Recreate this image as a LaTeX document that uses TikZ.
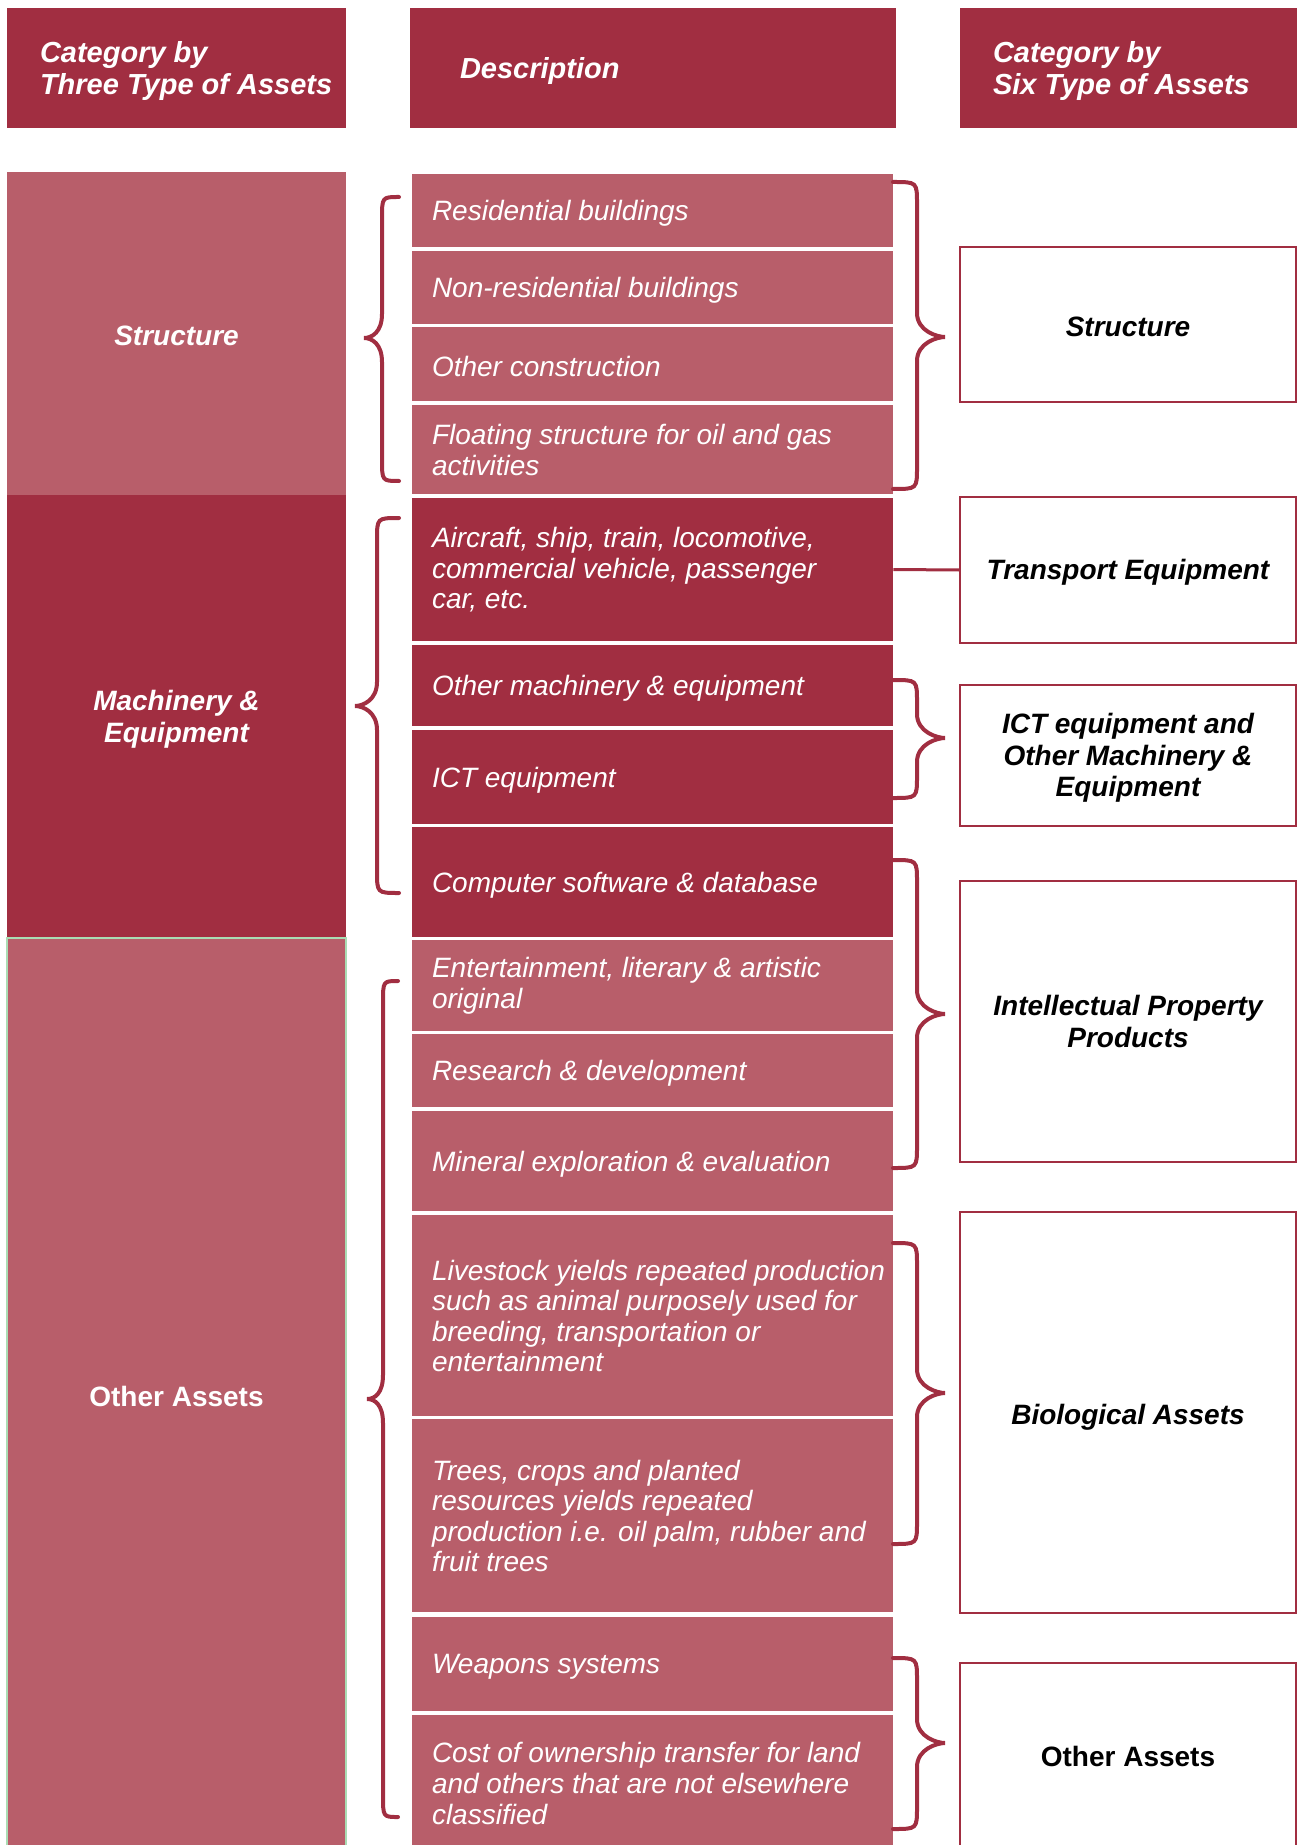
\documentclass[tikz,border=0pt]{standalone}
\usepackage{fontspec}
\setmainfont{Liberation Sans}
\definecolor{dk}{RGB}{161,46,65}
\definecolor{lt}{RGB}{184,94,106}
\definecolor{gr}{RGB}{170,220,180}
\newcommand\mybox[7]{%
 \pgfmathsetmacro\bxcx{(#2+#4)/2}\pgfmathsetmacro\bxcy{(#3+#5)/2}%
 \pgfmathsetmacro\bxw{(#4-#2)/2}\pgfmathsetmacro\bxh{(#5-#3)/2}%
 \node[#6, minimum width=\bxw pt, minimum height=\bxh pt, inner sep=0pt] (#1) at (\bxcx,\bxcy) {#7};}
\newcommand\LBr[6]{% xe xv xt yt ym yb
 \draw[brc] (#1,#4) .. controls (#2,#4) .. (#2,#4+22) -- (#2,#5-24) .. controls (#2,#5-6) and (#3+8,#5) .. (#3,#5) .. controls (#3+8,#5) and (#2,#5+6) .. (#2,#5+24) -- (#2,#6-22) .. controls (#2,#6) .. (#1,#6);}
\newcommand\RBr[6]{% xs xv xt yt ym yb
 \draw[brc] (#1,#4) .. controls (#2,#4) .. (#2,#4+22) -- (#2,#5-24) .. controls (#2,#5-6) and (#3-8,#5) .. (#3,#5) .. controls (#3-8,#5) and (#2,#5+6) .. (#2,#5+24) -- (#2,#6-22) .. controls (#2,#6) .. (#1,#6);}
\tikzset{
 hdr/.style={fill=dk, draw=none},
 ltbox/.style={fill=lt, draw=none},
 dkbox/.style={fill=dk, draw=none},
 colR/.style={fill=white, draw=dk, line width=1pt},
 htxt/.style={text=white, font=\fontsize{14.5}{15.9}\selectfont\bfseries\itshape, align=left, inner sep=0pt, anchor=west, yshift=-1.6pt},
 dtxt/.style={text=white, font=\fontsize{14}{15.3}\selectfont\itshape, align=left, inner sep=0pt, anchor=west, yshift=-1.4pt},
 ml/.style={yshift=1.2pt},
 rtxt/.style={text=black, font=\fontsize{14}{15.9}\selectfont\bfseries, align=center, inner sep=0pt, yshift=-1.2pt},
 ltxt/.style={text=white, font=\fontsize{14}{15.9}\selectfont\bfseries, align=center, inner sep=0pt, yshift=-1.2pt},
 brc/.style={draw=dk, line width=2pt, line cap=round},
 link/.style={draw=dk, line width=1.5pt}
}
\begin{document}
\begin{tikzpicture}[x=0.5pt,y=-0.5pt]
\useasboundingbox (0,0) rectangle (1298,1845);
\clip (0,0) rectangle (1298,1845);
% headers
\mybox{h1}{7}{8}{346}{128}{hdr}{}
\mybox{h2}{410}{8}{896}{128}{hdr}{}
\mybox{h3}{960}{8}{1297}{128}{hdr}{}
\node[htxt] (h1t) at ([xshift=16.5pt]h1.west) {Category by\\Three Type of Assets};
\node[htxt] (h2t) at ([xshift=25pt]h2.west) {Description};
\node[htxt] (h3t) at ([xshift=16.5pt]h3.west) {Category by\\Six Type of Assets};
% left column
\mybox{l1}{7}{172}{346}{495}{ltbox}{}
\mybox{l2}{7}{495}{346}{938}{dkbox}{}
\mybox{l3}{7}{938}{346}{1848}{ltbox,draw=gr,line width=0.6pt}{}
\node[ltxt] (l1t) at (l1.center) {\itshape Structure};
\node[ltxt] (l2t) at (l2.center) {\itshape Machinery \&\\\itshape Equipment};
\node[ltxt] (l3t) at ([yshift=-0.35pt]l3.center) {Other Assets};
% description column
\mybox{d1}{412}{174}{893}{247}{ltbox}{}
\mybox{d2}{412}{251}{893}{324}{ltbox}{}
\mybox{d3}{412}{327}{893}{401}{ltbox}{}
\mybox{d4}{412}{405}{893}{494}{ltbox}{}
\mybox{d5}{412}{498}{893}{641}{dkbox}{}
\mybox{d6}{412}{645}{893}{726}{dkbox}{}
\mybox{d7}{412}{730}{893}{824}{dkbox}{}
\mybox{d8}{412}{827}{893}{937}{dkbox}{}
\mybox{d9}{412}{940}{893}{1031}{ltbox}{}
\mybox{d10}{412}{1034}{893}{1107}{ltbox}{}
\mybox{d11}{412}{1111}{893}{1211}{ltbox}{}
\mybox{d12}{412}{1215}{893}{1416}{ltbox}{}
\mybox{d13}{412}{1419}{893}{1612}{ltbox}{}
\mybox{d14}{412}{1617}{893}{1711}{ltbox}{}
\mybox{d15}{412}{1715}{893}{1851}{ltbox}{}
\node[dtxt] (t1) at ([xshift=10pt]d1.west) {Residential buildings};
\node[dtxt] (t2) at ([xshift=10pt]d2.west) {Non-residential buildings};
\node[dtxt] (t3) at ([xshift=10pt]d3.west) {Other construction};
\node[dtxt,ml] (t4) at ([xshift=10pt]d4.west) {Floating structure for oil and gas\\activities};
\node[dtxt,ml] (t5) at ([xshift=10pt]d5.west) {Aircraft, ship, train, locomotive,\\commercial vehicle, passenger\\car, etc.};
\node[dtxt] (t6) at ([xshift=10pt]d6.west) {Other machinery \& equipment};
\node[dtxt] (t7) at ([xshift=10pt]d7.west) {ICT equipment};
\node[dtxt] (t8) at ([xshift=10pt]d8.west) {Computer software \& database};
\node[dtxt,ml] (t9) at ([xshift=10pt]d9.west) {Entertainment, literary \& artistic\\original};
\node[dtxt] (t10) at ([xshift=10pt]d10.west) {Research \& development};
\node[dtxt] (t11) at ([xshift=10pt]d11.west) {Mineral exploration \& evaluation};
\node[dtxt,ml] (t12) at ([xshift=10pt]d12.west) {Livestock yields repeated production\\such as animal purposely used for\\breeding, transportation or\\entertainment};
\node[dtxt,ml] (t13) at ([xshift=10pt]d13.west) {Trees, crops and planted\\resources yields repeated\\production i.e. oil palm, rubber and\\fruit trees};
\node[dtxt] (t14) at ([xshift=10pt]d14.west) {Weapons systems};
\node[dtxt,ml] (t15) at ([xshift=10pt]d15.west) {Cost of ownership transfer for land\\and others that are not elsewhere\\classified};
% right column
\mybox{r1}{960}{247}{1296}{402}{colR}{}
\mybox{r2}{960}{497}{1296}{643}{colR}{}
\mybox{r3}{960}{685}{1296}{826}{colR}{}
\mybox{r4}{960}{881}{1296}{1162}{colR}{}
\mybox{r5}{960}{1212}{1296}{1613}{colR}{}
\mybox{r6}{960}{1663}{1296}{1853}{colR}{}
\node[rtxt] (r1t) at (r1.center) {\itshape Structure};
\node[rtxt] (r2t) at (r2.center) {\itshape Transport Equipment};
\node[rtxt] (r3t) at (r3.center) {\itshape ICT equipment and\\\itshape Other Machinery \&\\\itshape Equipment};
\node[rtxt] (r4t) at ([yshift=1.2pt]r4.center) {\itshape Intellectual Property\\\itshape Products};
\node[rtxt] (r5t) at ([yshift=-1pt]r5.center) {\itshape Biological Assets};
\node[rtxt] (r6t) at ([yshift=1.75pt]r6.center) {Other Assets};
% connectors
\draw[link] (d5.east) -- (r2.west);
\LBr{399}{382}{364}{197}{338}{481}
\LBr{399}{377}{355}{518}{706}{893}
\LBr{398}{383}{367}{981}{1399}{1817}
\RBr{893}{917}{945}{182}{337}{489}
\RBr{893}{917}{945}{680}{738}{798}
\RBr{893}{917}{945}{860}{1014}{1168}
\RBr{893}{917}{945}{1243}{1393}{1544}
\RBr{893}{917}{945}{1658}{1743}{1829}
\end{tikzpicture}
\end{document}
